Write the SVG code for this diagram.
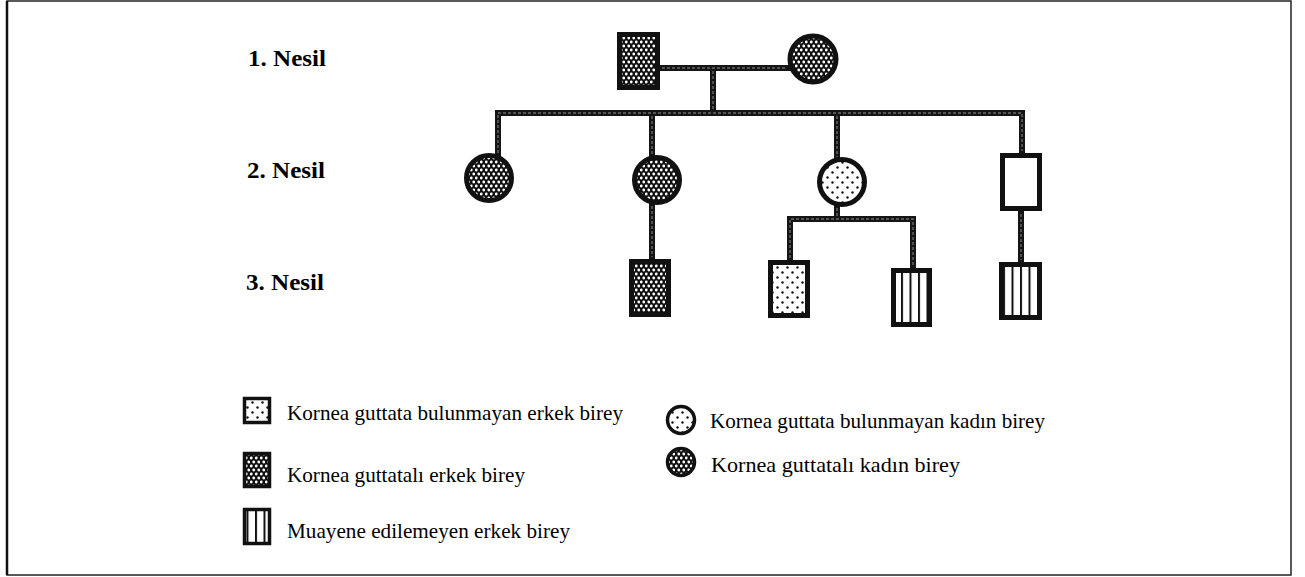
<svg xmlns="http://www.w3.org/2000/svg" width="1305" height="577" viewBox="0 0 1305 577">
<defs>
<pattern id="dense" x="0" y="0" width="5" height="8" patternUnits="userSpaceOnUse">
<rect width="5" height="8" fill="#111"/>
<circle cx="1.25" cy="2" r="1.4" fill="#fff"/>
<circle cx="3.75" cy="6" r="1.4" fill="#fff"/>
</pattern>
<pattern id="dots" x="0" y="0" width="10" height="10" patternUnits="userSpaceOnUse">
<rect width="10" height="10" fill="#fff"/>
<circle cx="2.5" cy="2.5" r="1.2" fill="#111"/>
<circle cx="7.5" cy="7.5" r="1.2" fill="#111"/>
</pattern>
<pattern id="stripes" x="0" y="0" width="8.5" height="10" patternUnits="userSpaceOnUse">
<rect width="8.5" height="10" fill="#fff"/>
<rect x="0" y="0" width="2" height="10" fill="#111"/>
</pattern>
</defs>
<style>
.ln{fill:none;stroke:#151515;stroke-width:6;stroke-linejoin:miter;stroke-linecap:square}
.lni{fill:none;stroke:#6a6a6a;stroke-width:1.4;stroke-dasharray:3 2}
.nd{stroke:#111;stroke-width:5}
.lg{stroke:#111;stroke-width:3.5}
.gen{font-family:"Liberation Serif","Times New Roman",serif;font-weight:bold;font-size:23px;fill:#000}
.lt{font-family:"Liberation Serif","Times New Roman",serif;font-size:22px;fill:#000}
</style>
<rect x="0" y="0" width="1305" height="577" fill="#fff"/>
<rect x="7" y="1" width="1284" height="574" fill="none" stroke="#222" stroke-width="1.5"/>
<line x1="7" y1="1" x2="7" y2="575" stroke="#111" stroke-width="2.5"/>

<g id="labels">
<text class="gen" x="248" y="66" textLength="78" lengthAdjust="spacingAndGlyphs">1. Nesil</text>
<text class="gen" x="247" y="178" textLength="78" lengthAdjust="spacingAndGlyphs">2. Nesil</text>
<text class="gen" x="246" y="290" textLength="78" lengthAdjust="spacingAndGlyphs">3. Nesil</text>
</g>

<g id="connectors">
<path class="ln" d="M659 68 H788"/>
<path class="ln" d="M713 68 V113"/>
<path class="ln" d="M498 160 V113 H1022 V153"/>
<path class="ln" d="M652 113 V157"/>
<path class="ln" d="M837 113 V159"/>
<path class="ln" d="M652 203 V259"/>
<path class="ln" d="M837 205 V219"/>
<path class="ln" d="M790 260 V219 H913 V268"/>
<path class="ln" d="M1021 211 V262"/>
<path class="lni" d="M662 68 H786 M713 71 V110 M498 158 V113 H1022 V151 M652 116 V155 M837 116 V157 M652 206 V257 M837 208 V217 M790 258 V219 H913 V266 M1021 214 V260"/>
</g>

<g id="gen1-father"><rect class="nd" x="619.5" y="34.5" width="38" height="53" fill="url(#dense)"/></g>
<g id="gen1-mother"><circle class="nd" cx="813" cy="59" r="23" fill="url(#dense)"/></g>

<g id="gen2-daughter1"><circle class="nd" cx="489" cy="178" r="22.5" fill="url(#dense)"/></g>
<g id="gen2-daughter2"><circle class="nd" cx="657" cy="180" r="22.5" fill="url(#dense)"/></g>
<g id="gen2-daughter3"><circle class="nd" cx="842" cy="182" r="22.5" fill="url(#dots)"/></g>
<g id="gen2-son"><rect class="nd" x="1002.5" y="155.5" width="37" height="53" fill="#fff"/></g>

<g id="gen3-son1"><rect class="nd" x="631.5" y="261.5" width="37" height="53" fill="url(#dense)"/></g>
<g id="gen3-son2"><rect class="nd" x="770.5" y="262.5" width="37" height="53" fill="url(#dots)"/></g>
<g id="gen3-son3"><rect class="nd" x="893.5" y="270.5" width="36" height="54" fill="url(#stripes)"/></g>
<g id="gen3-son4"><rect class="nd" x="1001.5" y="264.5" width="38" height="53" fill="url(#stripes)"/></g>

<g id="legend">
<rect class="lg" x="244.5" y="398.5" width="25" height="24" fill="url(#dots)"/>
<text class="lt" x="287" y="420" textLength="336" lengthAdjust="spacingAndGlyphs">Kornea guttata bulunmayan erkek birey</text>
<rect class="lg" x="244.5" y="453.5" width="25" height="33" fill="url(#dense)"/>
<text class="lt" x="287" y="482" textLength="238" lengthAdjust="spacingAndGlyphs">Kornea guttatalı erkek birey</text>
<rect class="lg" x="244.5" y="509.5" width="25" height="34" fill="url(#stripes)"/>
<text class="lt" x="287" y="538" textLength="283" lengthAdjust="spacingAndGlyphs">Muayene edilemeyen erkek birey</text>
<circle class="lg" cx="681" cy="420" r="13.5" fill="url(#dots)"/>
<text class="lt" x="710" y="428" textLength="335" lengthAdjust="spacingAndGlyphs">Kornea guttata bulunmayan kadın birey</text>
<circle class="lg" cx="681" cy="462" r="13.5" fill="url(#dense)"/>
<text class="lt" x="711" y="472" textLength="249" lengthAdjust="spacingAndGlyphs">Kornea guttatalı kadın birey</text>
</g>
</svg>
